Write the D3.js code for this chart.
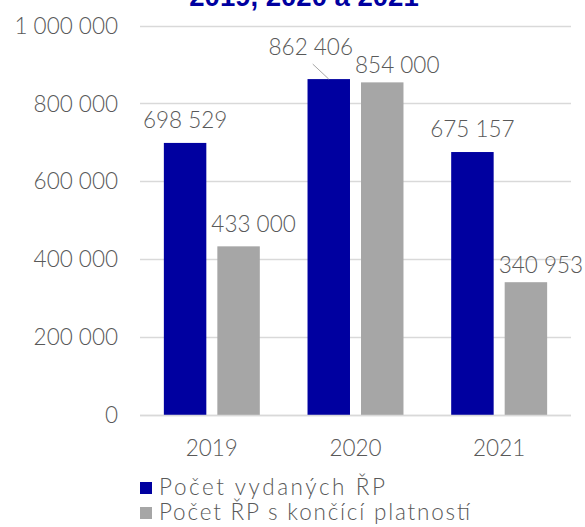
<!DOCTYPE html>
<html><head><meta charset="utf-8">
<script src="https://cdn.jsdelivr.net/npm/d3@7"></script>
<style>html,body{margin:0;padding:0;background:#fff;overflow:hidden}</style>
</head><body>
<svg id="c" width="585" height="527"></svg>
<script>
const years = ["2019", "2020", "2021"];
const seriesNames = ["Počet vydaných ŘP", "Počet ŘP s končící platností"];
const issued = [698529, 862406, 675157];
const expiring = [433000, 854000, 340953];
const yTicks = [0, 200000, 400000, 600000, 800000, 1000000];
const titleText = "2019, 2020 a 2021";

// label placement offsets (layout, px) relative to bar center / top
const labelOffsets = [
  [[0, -15], [15, -14]],
  [[-18, -24], [15, -9]],
  [[0, -15], [15, -9]]
];
const legendWidths = [226, 311];

const colors = ["#0000A0", "#A6A6A6"];
const textColor = "#595959";
const font = "Lato, 'Open Sans', sans-serif";
const fw = 300;
const fs = 22.5;

const svg = d3.select("#c");
const fmt = d3.formatLocale({decimal: ",", thousands: "\u00a0", grouping: [3], currency: ["", ""]}).format(",d");

const x0 = d3.scaleBand().domain(years).range([140, 571]).padding(0);
const x1 = d3.scaleBand().domain([0, 1]).range([0, x0.bandwidth()]).paddingInner(0.206).paddingOuter(0.446);
const y = d3.scaleLinear().domain([0, 1000000]).range([415, 25.5]);

// title (partially visible, as in the reference)
svg.append("text").attr("x", 304).attr("y", 6).attr("text-anchor", "middle")
  .attr("font-family", "'Liberation Sans', Arial, sans-serif").attr("font-weight", "bold")
  .attr("font-size", 27.5).attr("fill", "#0000A0").text(titleText);

// gridlines
svg.append("g").selectAll("line").data(yTicks).join("line")
  .attr("x1", 140).attr("x2", 571)
  .attr("y1", d => Math.round(y(d)) + 0.5).attr("y2", d => Math.round(y(d)) + 0.5)
  .attr("stroke", "#D9D9D9").attr("stroke-width", 1.5);

// y axis labels
svg.append("g").selectAll("text").data(yTicks).join("text")
  .attr("x", 118).attr("y", d => y(d)).attr("dy", "0.36em")
  .attr("text-anchor", "end").attr("font-family", font).attr("font-weight", fw).attr("font-size", fs)
  .attr("fill", textColor).text(d => fmt(d));

// bars
const data = years.map((yr, i) => ({yr, vals: [issued[i], expiring[i]], i}));
const g = svg.append("g");
data.forEach(d => {
  d.vals.forEach((v, s) => {
    const bx = x0(d.yr) + x1(s);
    g.append("rect").attr("x", bx).attr("width", x1.bandwidth())
      .attr("y", y(v)).attr("height", y(0) - y(v)).attr("fill", colors[s]);
    const off = labelOffsets[d.i][s];
    const cx = bx + x1.bandwidth() / 2 + off[0];
    const ty = y(v) + off[1];
    g.append("text").attr("x", cx).attr("y", ty).attr("text-anchor", "middle")
      .attr("font-family", font).attr("font-weight", fw).attr("font-size", fs).attr("fill", textColor)
      .text(fmt(v));
    if (d.i === 1 && s === 0) {
      g.append("line").attr("x1", cx + 2).attr("y1", ty + 9)
        .attr("x2", bx + x1.bandwidth() / 2).attr("y2", y(v))
        .attr("stroke", "#A6A6A6").attr("stroke-width", 1);
    }
  });
});

// x axis line
svg.append("line").attr("x1", 140).attr("x2", 571)
  .attr("y1", Math.round(y(0)) + 0.5).attr("y2", Math.round(y(0)) + 0.5)
  .attr("stroke", "#D9D9D9").attr("stroke-width", 1.5);

// category labels
svg.append("g").selectAll("text").data(years).join("text")
  .attr("x", d => x0(d) + x0.bandwidth() / 2).attr("y", 456)
  .attr("text-anchor", "middle").attr("font-family", font).attr("font-weight", fw).attr("font-size", fs)
  .attr("fill", textColor).text(d => d);

// legend
const leg = svg.append("g").selectAll("g").data(seriesNames).join("g")
  .attr("transform", (d, i) => `translate(140,${482 + i * 25})`);
leg.append("rect").attr("width", 12).attr("height", 12).attr("fill", (d, i) => colors[i]);
leg.append("text").attr("x", 19).attr("y", 13).attr("font-family", font).attr("font-weight", fw).attr("font-size", fs)
  .attr("textLength", (d, i) => legendWidths[i]).attr("lengthAdjust", "spacing")
  .attr("fill", textColor).text(d => d);
</script>
</body></html>
